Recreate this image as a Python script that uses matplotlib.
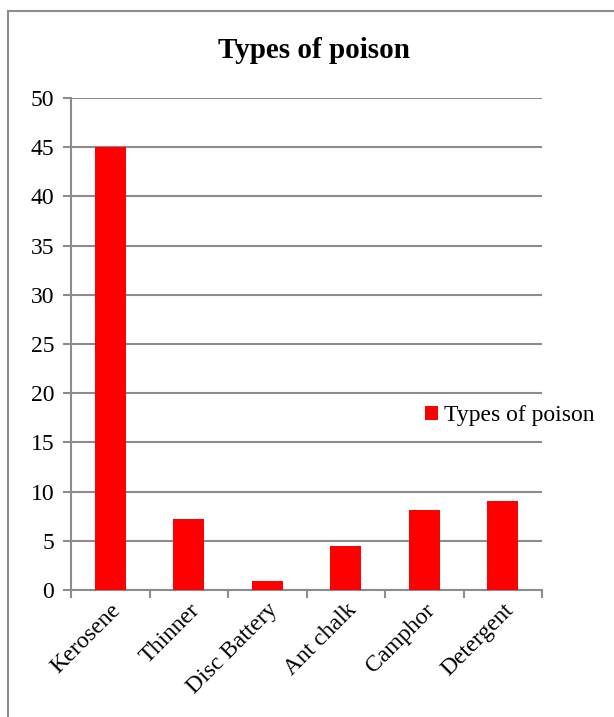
import matplotlib.pyplot as plt
from matplotlib.patches import Rectangle

categories = ['Kerosene', 'Thinner', 'Disc Battery', 'Ant chalk', 'Camphor', 'Detergent']
values = [45, 7.2, 0.9, 4.5, 8.1, 9.0]
yticks = [0, 5, 10, 15, 20, 25, 30, 35, 40, 45, 50]

plt.rcParams['font.family'] = ['Liberation Serif', 'DejaVu Serif']
grey = '#8c8c8c'

fig = plt.figure(figsize=(6.14, 7.17), dpi=100)
# outer chart frame
fig.patches.append(Rectangle((8 / 614, -0.05), 1.0, 1 - 11 / 717 + 0.05,
                             transform=fig.transFigure, fill=False,
                             edgecolor=grey, linewidth=1.5))

ax = fig.add_axes([71 / 614, 1 - 590 / 717, (542 - 71) / 614, (590 - 98) / 717])
x = list(range(len(categories)))
bars = ax.bar(x, values, width=0.4, color='#ff0000', label='Types of poison', zorder=3)

ax.set_ylim(0, 50)
ax.set_xlim(-0.5, len(categories) - 0.5)
ax.set_yticks(yticks)
ax.yaxis.grid(True, color=grey, linewidth=1.5)
ax.set_axisbelow(True)

ax.set_xticks([i - 0.5 for i in range(len(categories) + 1)])
ax.set_xticklabels([])
ax.set_xticks(x, minor=True)
ax.set_xticklabels(categories, minor=True, rotation=45, ha='right',
                   rotation_mode='anchor', fontsize=17)
ax.tick_params(axis='x', which='minor', length=0, pad=7)
ax.tick_params(axis='x', which='major', length=6, color=grey, width=1.5)
ax.tick_params(axis='y', length=6, color=grey, width=1.5, labelsize=17, pad=6)

for s in ['top', 'right']:
    ax.spines[s].set_visible(False)
for s in ['left', 'bottom']:
    ax.spines[s].set_color(grey)
    ax.spines[s].set_linewidth(1.5)

fig.text(314 / 614, 1 - 50 / 717, 'Types of poison', ha='center', va='center',
         fontsize=21, fontweight='bold')

fig.legend(handles=[bars], loc='center left', bbox_to_anchor=(413 / 614, 1 - 416 / 717),
           frameon=False, fontsize=17, handlelength=0.55, handleheight=0.55,
           handletextpad=0.25, borderpad=0)

fig.savefig('out.png', dpi=100)
